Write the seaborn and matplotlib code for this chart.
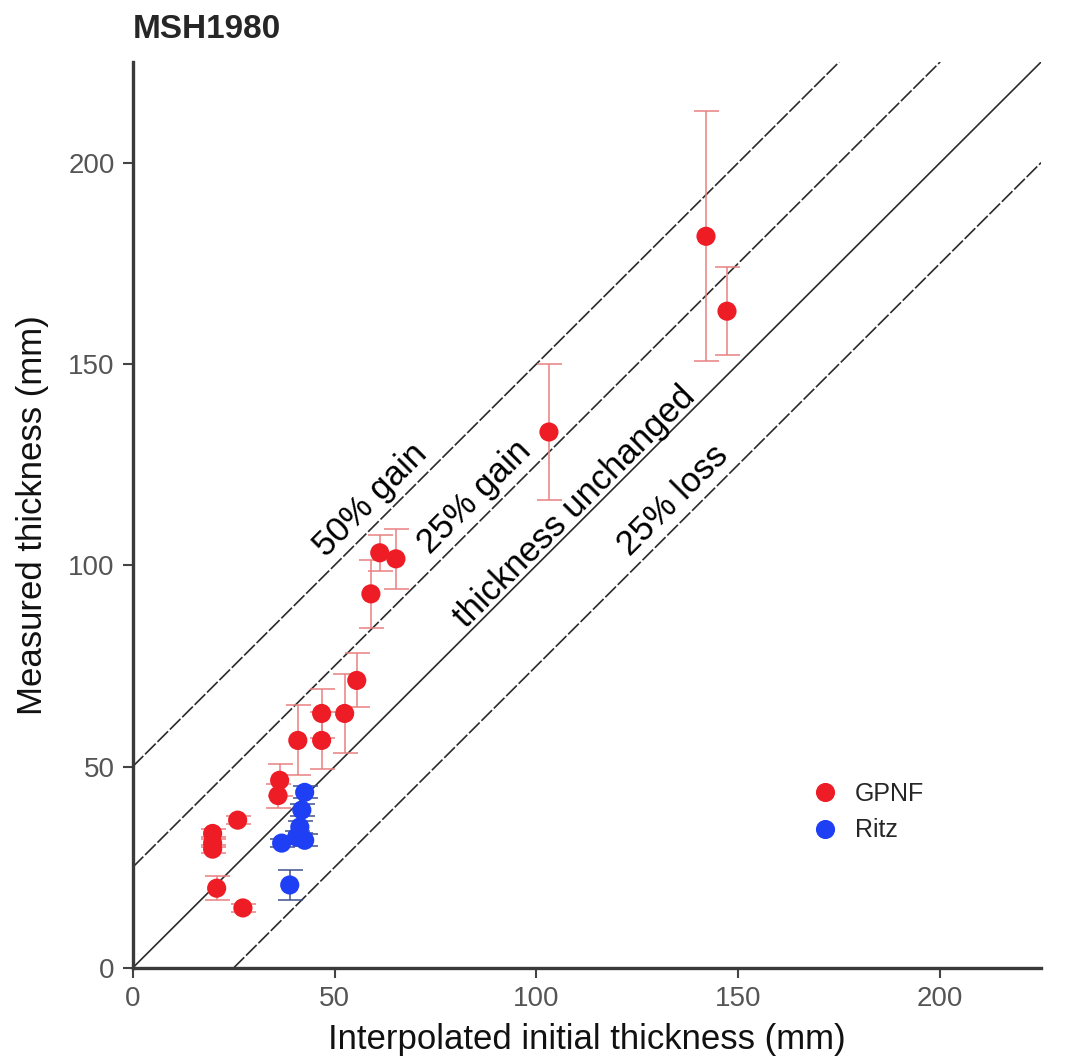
import matplotlib
matplotlib.use("Agg")
import matplotlib.pyplot as plt
import seaborn as sns
import pandas as pd

# GPNF measurements
gpnf_x = [142.0, 147.2, 103.1, 61.2, 65.2, 59.0, 55.5, 52.5, 46.8, 46.8, 40.9,
          36.4, 36.0, 26.0, 19.8, 19.8, 19.8, 20.8, 27.3]
gpnf_y = [181.7, 163.1, 133.1, 103.1, 101.6, 92.9, 71.4, 63.2, 63.2, 56.5, 56.5,
          46.6, 42.8, 36.7, 33.4, 31.0, 29.5, 19.8, 14.9]
gpnf_err = [31.0, 11.0, 17.0, 4.5, 7.5, 8.5, 6.7, 9.7, 6.0, 7.0, 8.7,
            4.0, 3.0, 1.0, 1.0, 1.0, 1.0, 3.0, 1.0]

# Ritz measurements
ritz_x = [42.6, 41.9, 41.4, 40.6, 42.6, 36.9, 38.9]
ritz_y = [43.6, 39.2, 35.0, 32.5, 31.7, 31.0, 20.6]
ritz_err = [1.5, 1.5, 1.5, 1.5, 1.5, 1.0, 3.8]

# reference lines: offset from 1:1 line, label, label position
ref_offsets = [50, 25, 0, -25]
ref_labels = ["50% gain", "25% gain", "thickness unchanged", "25% loss"]
ref_label_x = [58.9, 84.8, 109.5, 133.8]
ref_label_y = [116.2, 116.9, 114.5, 116.2]

title = "MSH1980"
xlabel = "Interpolated initial thickness (mm)"
ylabel = "Measured thickness (mm)"

df = pd.DataFrame({
    "x": gpnf_x + ritz_x,
    "y": gpnf_y + ritz_y,
    "err": gpnf_err + ritz_err,
    "site": ["GPNF"] * len(gpnf_x) + ["Ritz"] * len(ritz_x),
})

sns.set_theme(style="ticks")
plt.rcParams["font.family"] = ["Liberation Sans", "DejaVu Sans"]

colors = {"GPNF": "#EE1C25", "Ritz": "#1F3FF5"}
err_colors = {"GPNF": "#E88080", "Ritz": "#40508C"}

fig = plt.figure(figsize=(10.7, 10.59), dpi=100)
ax = fig.add_axes([0.124, 0.086, 0.849, 0.8555])

for off, ls in zip(ref_offsets, ["--", "--", "-", "--"]):
    line = ax.axline((0, off), slope=1, color="#2b2b2b", lw=1.2, zorder=1)
    if ls == "--":
        line.set_dashes((9, 1.5))

for site, sub in df.groupby("site"):
    ax.errorbar(sub["x"], sub["y"], yerr=sub["err"], fmt="none",
                ecolor=err_colors[site], elinewidth=1.1, capsize=9,
                capthick=1.1, zorder=2)

sns.scatterplot(data=df, x="x", y="y", hue="site", palette=colors, s=190,
                edgecolor="none", ax=ax, zorder=3)

for lab, lx, ly in zip(ref_labels, ref_label_x, ref_label_y):
    ax.text(lx, ly, lab, rotation=45, rotation_mode="anchor",
            ha="center", va="center", fontsize=25, color="black")

ax.set_xlim(0, 225)
ax.set_ylim(0, 225)
ax.set_xticks([0, 50, 100, 150, 200])
ax.set_yticks([0, 50, 100, 150, 200])
ax.tick_params(axis="both", labelsize=20, labelcolor="#555555", color="#444444",
               length=7, width=1.5, pad=6)
for side in ["top", "right"]:
    ax.spines[side].set_visible(False)
for side in ["left", "bottom"]:
    ax.spines[side].set_color("#3a3a3a")
    ax.spines[side].set_linewidth(2.4)

ax.set_xlabel(xlabel, fontsize=25, labelpad=8, color="#111111")
ax.set_ylabel(ylabel, fontsize=25, labelpad=14, color="#111111")
fig.text(0.124, 0.9717, title, fontsize=24, fontweight="bold", ha="left", va="center")

leg = ax.legend(loc="center left", bbox_to_anchor=(0.71, 0.172), frameon=False,
                fontsize=18, markerscale=1.0, handletextpad=0.2, labelspacing=0.5)
leg.set_title(None)

fig.savefig("out.png", dpi=100)
plt.close(fig)
